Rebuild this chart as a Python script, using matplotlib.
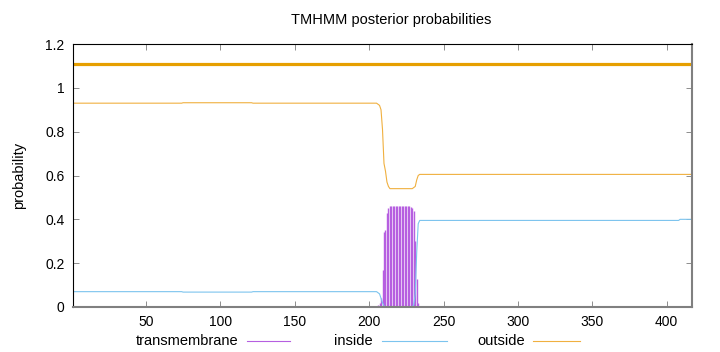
"""TMHMM posterior probabilities plot, gnuplot look."""
import numpy as np
import matplotlib
matplotlib.use("Agg")
import matplotlib.pyplot as plt
from matplotlib.lines import Line2D

plt.rcParams["font.family"] = ["Liberation Sans", "DejaVu Sans"]

SEQ_LEN = 417

# run-length encoded flat parts: (first residue, last residue, value)
inside_runs = [(1, 74, 0.070), (75, 121, 0.068), (122, 205, 0.070),
               (235, 408, 0.395), (409, 417, 0.400)]
outside_runs = [(1, 74, 0.930), (75, 121, 0.932), (122, 205, 0.930),
                (235, 417, 0.605)]

# per-residue values across the membrane segment, residues 206..234
trans_res = list(range(206, 235))
tm_trans = [0.01, 0.02, 0.04, 0.17, 0.34, 0.35, 0.43, 0.45,
            0.46, 0.46, 0.46, 0.46, 0.46, 0.46, 0.46,
            0.46, 0.46, 0.46, 0.46, 0.46, 0.46, 0.46,
            0.455, 0.45, 0.44, 0.30, 0.13, 0.02, 0.0]
inside_trans = [0.065, 0.06, 0.04, 0.02, 0.005, 0.0, 0.0, 0.0,
                0.0, 0.0, 0.0, 0.0, 0.0, 0.0, 0.0,
                0.0, 0.0, 0.0, 0.0, 0.0, 0.0, 0.0,
                0.0, 0.0, 0.01, 0.06, 0.25, 0.38, 0.395]
outside_trans = [0.925, 0.92, 0.90, 0.81, 0.655, 0.62, 0.57, 0.55,
                 0.54, 0.54, 0.54, 0.54, 0.54, 0.54, 0.54,
                 0.54, 0.54, 0.54, 0.54, 0.54, 0.54, 0.54,
                 0.54, 0.54, 0.545, 0.55, 0.58, 0.60, 0.605]

topology_level = 1.11


def build(runs, trans):
    y = np.zeros(SEQ_LEN)
    for a, b, v in runs:
        y[a - 1:b] = v
    y[trans_res[0] - 1:trans_res[-1]] = trans
    return y


res = np.arange(1, SEQ_LEN + 1)
inside = build(inside_runs, inside_trans)
outside = build(outside_runs, outside_trans)
tm = np.zeros(SEQ_LEN)
tm[trans_res[0] - 1:trans_res[-1]] = tm_trans

C_TM, C_IN, C_OUT = "#b65fe0", "#7cc4ee", "#f0b040"

fig = plt.figure(figsize=(7.2, 3.52), dpi=100)
ax = fig.add_axes([73 / 720, 1 - 307 / 352, (692 - 73) / 720, (307 - 44) / 352])

ax.vlines(res[tm > 0], 0, tm[tm > 0], color=C_TM, lw=1.0)
ax.plot(res, inside, color=C_IN, lw=0.8)
ax.plot(res, outside, color=C_OUT, lw=0.8)
ax.plot([1, SEQ_LEN], [topology_level] * 2, color="#e69f00", lw=2.3,
        solid_capstyle="butt")

ax.set_xlim(1, SEQ_LEN)
ax.set_ylim(0, 1.2)
ax.set_xticks([50, 100, 150, 200, 250, 300, 350, 400])
ax.set_yticks([0, 0.2, 0.4, 0.6, 0.8, 1.0, 1.2])
ax.set_yticklabels(["0", "0.2", "0.4", "0.6", "0.8", "1", "1.2"])
ax.tick_params(direction="in", length=4, width=0.5, color="#606060",
               top=True, right=True, labelsize=10, pad=6)
for s in ("left", "top"):
    ax.spines[s].set_color("black")
    ax.spines[s].set_linewidth(0.8)
for s in ("bottom", "right"):
    ax.spines[s].set_color("#808080")
    ax.spines[s].set_linewidth(1.5)

ax.set_ylabel("probability", fontsize=10.5, labelpad=14)
fig.text(391 / 720, 1 - 20 / 352, "TMHMM posterior probabilities",
         ha="center", va="center", fontsize=10.5)

# gnuplot-style key below the plot
key_y = 1 - 341 / 352
for label, tx, x0, x1, col in [("transmembrane", 238, 247, 290, C_TM),
                               ("inside", 373, 382, 447, C_IN),
                               ("outside", 525, 533, 580, C_OUT)]:
    fig.text(tx / 720, key_y, label, ha="right", va="center", fontsize=10.5)
    fig.add_artist(Line2D([x0 / 720, x1 / 720], [key_y, key_y],
                          color=col, lw=0.8, transform=fig.transFigure))

fig.savefig("out.png", dpi=100)
